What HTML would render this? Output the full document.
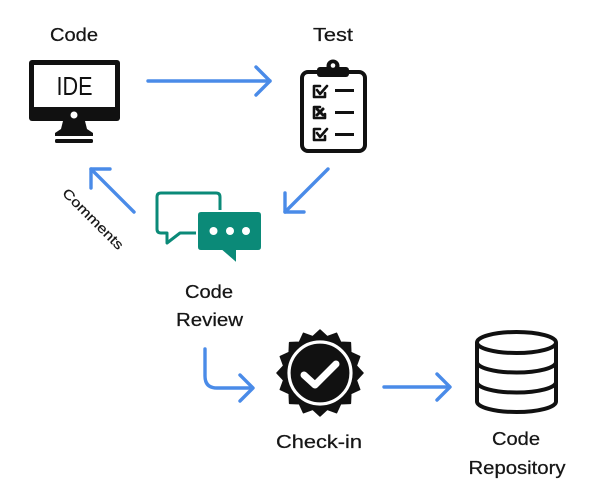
<!DOCTYPE html>
<html>
<head>
<meta charset="utf-8">
<style>
html,body{margin:0;padding:0;background:#fff;}
svg{display:block;}
text{font-family:"Liberation Sans",sans-serif;fill:#161616;}
.lbl{stroke:#161616;stroke-width:0.25px;}
</style>
</head>
<body>
<svg width="600" height="500" viewBox="0 0 600 500" xmlns="http://www.w3.org/2000/svg">
  <rect width="600" height="500" fill="#fff"/>

  <!-- Labels -->
  <text class="lbl" x="74" y="41" font-size="18" text-anchor="middle" textLength="48" lengthAdjust="spacingAndGlyphs">Code</text>
  <text class="lbl" x="333" y="41" font-size="18" text-anchor="middle" textLength="40" lengthAdjust="spacingAndGlyphs">Test</text>
  <text class="lbl" x="209" y="298" font-size="18" text-anchor="middle" textLength="48" lengthAdjust="spacingAndGlyphs">Code</text>
  <text class="lbl" x="209.5" y="326" font-size="18" text-anchor="middle" textLength="67" lengthAdjust="spacingAndGlyphs">Review</text>
  <text class="lbl" x="319" y="448" font-size="18" text-anchor="middle" textLength="86" lengthAdjust="spacingAndGlyphs">Check-in</text>
  <text class="lbl" x="516" y="445" font-size="18" text-anchor="middle" textLength="48" lengthAdjust="spacingAndGlyphs">Code</text>
  <text class="lbl" x="517" y="474" font-size="18" text-anchor="middle" textLength="97" lengthAdjust="spacingAndGlyphs">Repository</text>
  <text class="lbl" x="0" y="0" font-size="13.5" text-anchor="middle" dominant-baseline="central" transform="translate(93,219) rotate(45)" textLength="80" lengthAdjust="spacingAndGlyphs" style="stroke-width:0.2px">Comments</text>

  <!-- Monitor -->
  <rect x="29" y="60" width="91" height="61" rx="3" fill="#111"/>
  <rect x="34" y="65" width="81" height="42" fill="#fff"/>
  <circle cx="74" cy="115" r="3.5" fill="#fff"/>
  <polygon points="63,121 85,121 87,129 93,133 93,136 55,136 55,133 61,129" fill="#111"/>
  <rect x="55" y="139" width="38" height="4" rx="1.5" fill="#111"/>
  <text x="74.5" y="95" font-size="26" text-anchor="middle" textLength="36" lengthAdjust="spacingAndGlyphs" style="fill:#111">IDE</text>

  <!-- Clipboard -->
  <rect x="302" y="72" width="63" height="79" rx="6" fill="none" stroke="#111" stroke-width="4"/>
  <rect x="317" y="67" width="32" height="10" rx="3" fill="#111"/>
  <circle cx="333" cy="66" r="6.5" fill="#111"/>
  <circle cx="333" cy="65.5" r="2.3" fill="#fff"/>
  <g fill="none" stroke="#111" stroke-width="2.6" stroke-linecap="round" stroke-linejoin="round">
    <path d="M320,86 L314,86 L314,97 L325,97 L325,93"/>
    <path d="M317,90 L320,94 L327,86"/>
    <path d="M320,107 L314,107 L314,118 L325,118 L325,114"/>
    <path d="M317,109 L323,115 M323,109 L317,115" stroke-width="3"/>
    <path d="M320,129 L314,129 L314,140 L325,140 L325,136"/>
    <path d="M317,133 L320,137 L327,129"/>
  </g>
  <g stroke="#111" stroke-width="3">
    <line x1="335" y1="90.5" x2="354" y2="90.5"/>
    <line x1="335" y1="112.5" x2="354" y2="112.5"/>
    <line x1="335" y1="134.5" x2="354" y2="134.5"/>
  </g>

  <!-- Chat icon -->
  <path d="M161,193 L216,193 Q220,193 220,197 L220,229 Q220,233 216,233 L180,233 L167,243 L167,233 L161,233 Q157,233 157,229 L157,197 Q157,193 161,193 Z" fill="#fff" stroke="#0b8a78" stroke-width="3" stroke-linejoin="round"/>
  <path d="M201,211 L258,211 Q262,211 262,215 L262,247 Q262,251 258,251 L237,251 L237,264 L222,251 L201,251 Q197,251 197,247 L197,215 Q197,211 201,211 Z" fill="#0b8a78" stroke="#fff" stroke-width="2"/>
  <circle cx="213.5" cy="231" r="4" fill="#fff"/>
  <circle cx="230" cy="231" r="4" fill="#fff"/>
  <circle cx="246" cy="231" r="4" fill="#fff"/>

  <!-- Badge -->
  <polygon fill="#111" stroke="#111" stroke-width="1.5" stroke-linejoin="round" points="320,330 327.2,336.7 336.5,333.3 340.6,342.2 350.4,342.6 350.8,352.4 359.7,356.5 356.3,365.8 363,373 356.3,380.2 359.7,389.5 350.8,393.6 350.4,403.4 340.6,403.8 336.5,412.7 327.2,409.3 320,416 312.8,409.3 303.5,412.7 299.4,403.8 289.6,403.4 289.2,393.6 280.3,389.5 283.7,380.2 277,373 283.7,365.8 280.3,356.5 289.2,352.4 289.6,342.6 299.4,342.2 303.5,333.3 312.8,336.7"/>
  <circle cx="320" cy="373" r="31" fill="none" stroke="#fff" stroke-width="3.2"/>
  <path d="M304,375 L315,385 L336,364" fill="none" stroke="#fff" stroke-width="7" stroke-linecap="round" stroke-linejoin="round"/>

  <!-- Database -->
  <g fill="none" stroke="#111" stroke-width="4">
    <ellipse cx="516.5" cy="342.5" rx="39.5" ry="10.5"/>
    <path d="M477,342.5 L477,401.5 A39.5,10.5 0 0 0 556,401.5 L556,342.5"/>
    <path d="M477,362 A39.5,10.5 0 0 0 556,362"/>
    <path d="M477,382 A39.5,10.5 0 0 0 556,382"/>
  </g>

  <!-- Arrows -->
  <g fill="none" stroke="#4a8be8" stroke-width="3.4" stroke-linecap="round" stroke-linejoin="round">
    <path d="M148,81 L270,81"/>
    <path d="M256,67 L270,81 L256,95"/>
    <path d="M328,169 L285,212"/>
    <path d="M285,193 L285,212 L304,212"/>
    <path d="M134,212 L91,169"/>
    <path d="M110,169 L91,169 L91,188"/>
    <path d="M205,349 L205,376 Q205,388 217,388 L252,388"/>
    <path d="M240,375 L253,388 L240,401"/>
    <path d="M384,387 L449,387"/>
    <path d="M437,374 L450,387 L437,400"/>
  </g>
</svg>
</body>
</html>
